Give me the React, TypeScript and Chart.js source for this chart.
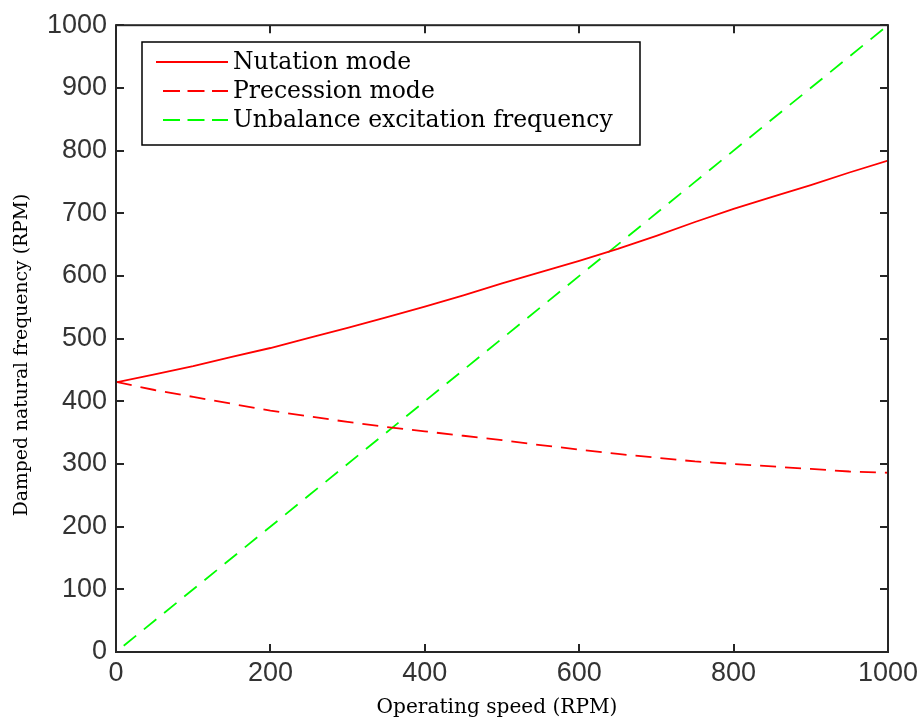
import React, { useEffect, useRef } from "react";
import { Chart, registerables } from "chart.js";

Chart.register(...registerables);

// ---- data ----
const speed = [0, 50, 100, 150, 200, 250, 300, 350, 400, 450, 500, 550, 600, 650, 700, 750, 800, 850, 900, 950, 1000];
const nutation = [430, 443, 456, 471, 485, 501, 517, 534, 551, 569, 588, 606, 624, 643, 664, 686, 707, 726, 745, 765, 784];
const precession = [431, 418, 407, 396, 385, 376, 367, 359, 352, 345, 338, 330, 323, 316, 310, 304, 300, 296, 292, 288, 286];
const unbalanceSpeed = [10, 250, 500, 750, 1000];
const unbalanceFreq = [10, 250, 500, 750, 1000];

const xTicks = [0, 200, 400, 600, 800, 1000];
const yTicks = [0, 100, 200, 300, 400, 500, 600, 700, 800, 900, 1000];

const seriesLabels = ["Nutation mode", "Precession mode", "Unbalance excitation frequency"];
const seriesColors = ["#ff0000", "#ff0000", "#00ff00"];
const seriesDash: number[][] = [[], [16, 9], [16, 10]];
const xTitle = "Operating speed (RPM)";
const yTitle = "Damped natural frequency (RPM)";

const AXIS_COLOR = "#262626";
const TICK_FONT = "'Liberation Sans', Arial, sans-serif";
const SERIF = "'DejaVu Serif', 'Liberation Serif', serif";

function fitFont(ctx: CanvasRenderingContext2D, text: string, family: string, target: number) {
  ctx.font = `20px ${family}`;
  const w = ctx.measureText(text).width;
  return (20 * target) / w;
}

const framePlugin = {
  id: "matlabFrame",
  afterDatasetsDraw(chart: any) {
    const { ctx, chartArea: a, scales } = chart;
    ctx.save();
    // axes box
    ctx.strokeStyle = AXIS_COLOR;
    ctx.lineWidth = 2;
    ctx.setLineDash([]);
    ctx.strokeRect(a.left, a.top, a.right - a.left, a.bottom - a.top);
    // inward ticks on all four sides
    const tl = 8;
    ctx.beginPath();
    for (const v of xTicks) {
      const px = Math.round(scales.x.getPixelForValue(v));
      ctx.moveTo(px, a.bottom);
      ctx.lineTo(px, a.bottom - tl);
      ctx.moveTo(px, a.top);
      ctx.lineTo(px, a.top + tl);
    }
    for (const v of yTicks) {
      const py = Math.round(scales.y.getPixelForValue(v));
      ctx.moveTo(a.left, py);
      ctx.lineTo(a.left + tl, py);
      ctx.moveTo(a.right, py);
      ctx.lineTo(a.right - tl, py);
    }
    ctx.stroke();

    // legend box
    const lx = 142, ly = 42, lw = 498, lh = 103;
    ctx.fillStyle = "#ffffff";
    ctx.fillRect(lx, ly, lw, lh);
    ctx.strokeStyle = "#000000";
    ctx.lineWidth = 1.5;
    ctx.strokeRect(lx, ly, lw, lh);
    const legendSize = fitFont(ctx, seriesLabels[2], SERIF, 380);
    const rows = [62, 91, 120];
    seriesLabels.forEach((label, i) => {
      const y = rows[i];
      ctx.strokeStyle = seriesColors[i];
      ctx.lineWidth = 1.8;
      ctx.setLineDash(seriesDash[i].length ? [17, 7.5] : []);
      ctx.beginPath();
      ctx.moveTo(seriesDash[i].length ? 163 : 156, y);
      ctx.lineTo(228, y);
      ctx.stroke();
      ctx.setLineDash([]);
      ctx.fillStyle = "#000000";
      ctx.font = `${legendSize}px ${SERIF}`;
      ctx.textAlign = "left";
      ctx.textBaseline = "middle";
      ctx.fillText(label, 233, y + 1);
    });

    // axis titles
    ctx.fillStyle = "#000000";
    ctx.textAlign = "center";
    ctx.textBaseline = "middle";
    const xs = fitFont(ctx, xTitle, SERIF, 241);
    ctx.font = `${xs}px ${SERIF}`;
    ctx.fillText(xTitle, 497, 708);
    const ys = fitFont(ctx, yTitle, SERIF, 323);
    ctx.font = `${ys}px ${SERIF}`;
    ctx.translate(22, 355);
    ctx.rotate(-Math.PI / 2);
    ctx.fillText(yTitle, 0, 0);
    ctx.restore();
  },
};

export default function App() {
  const ref = useRef<HTMLCanvasElement>(null);
  useEffect(() => {
    if (!ref.current) return;
    const ds = [
      { label: seriesLabels[0], data: speed.map((x, i) => ({ x, y: nutation[i] })) },
      { label: seriesLabels[1], data: speed.map((x, i) => ({ x, y: precession[i] })) },
      { label: seriesLabels[2], data: unbalanceSpeed.map((x, i) => ({ x, y: unbalanceFreq[i] })) },
    ].map((d, i) => ({
      ...d,
      borderColor: seriesColors[i],
      backgroundColor: seriesColors[i],
      borderWidth: 1.8,
      borderDash: seriesDash[i],
      pointRadius: 0,
      tension: 0,
      fill: false,
    }));
    const tickFmt = (v: any) => String(v);
    const chart = new Chart(ref.current, {
      type: "line",
      data: { datasets: ds as any },
      plugins: [framePlugin],
      options: {
        animation: false,
        responsive: false,
        maintainAspectRatio: false,
        devicePixelRatio: 1,
        layout: { padding: { top: 21, right: 36, left: 0, bottom: 0 } },
        plugins: { legend: { display: false }, tooltip: { enabled: false } },
        scales: {
          x: {
            type: "linear",
            min: 0,
            max: 1000,
            grid: { display: false, drawTicks: false },
            border: { display: false },
            ticks: { color: "#333333", font: { family: TICK_FONT, size: 27 }, padding: 5, maxRotation: 0, callback: tickFmt },
            afterBuildTicks: (s: any) => {
              s.ticks = xTicks.map((value) => ({ value }));
            },
            afterFit: (s: any) => {
              s.height = 73;
            },
          },
          y: {
            type: "linear",
            min: 0,
            max: 1000,
            grid: { display: false, drawTicks: false },
            border: { display: false },
            ticks: { color: "#333333", font: { family: TICK_FONT, size: 27 }, padding: 9, callback: tickFmt },
            afterBuildTicks: (s: any) => {
              s.ticks = yTicks.map((value) => ({ value }));
            },
            afterFit: (s: any) => {
              s.width = 116;
            },
          },
        },
      },
    });
    return () => chart.destroy();
  }, []);
  return (
    <div style={{ position: "fixed", left: 0, top: 0, width: 924, height: 725, background: "#ffffff" }}>
      <canvas ref={ref} width={924} height={725} style={{ display: "block" }} />
    </div>
  );
}
